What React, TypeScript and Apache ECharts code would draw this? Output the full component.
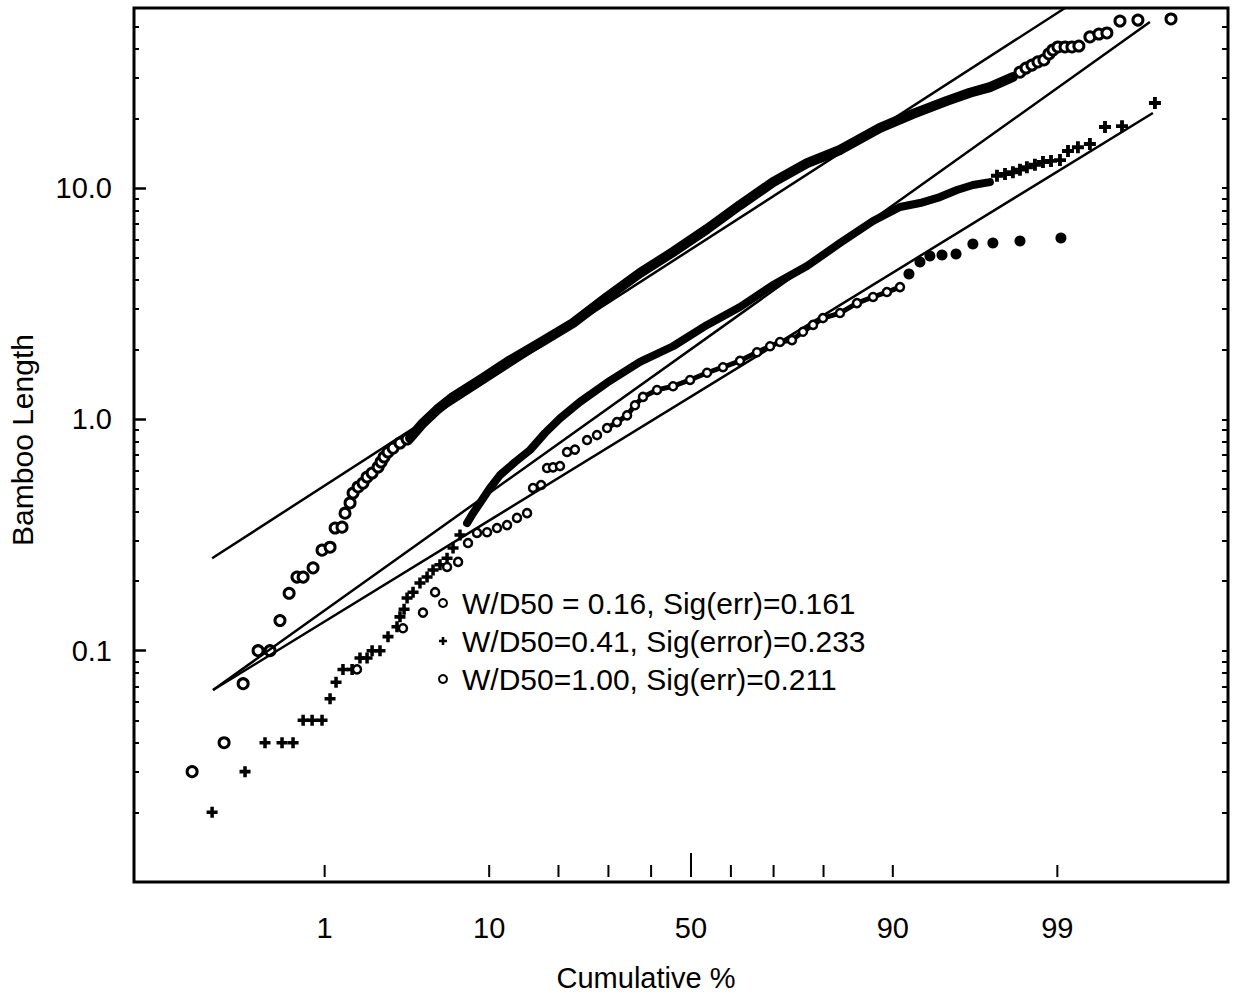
import React, { useEffect, useRef } from 'react';
import * as echarts from 'echarts';

const FONT = '"Liberation Sans", Arial, Helvetica, sans-serif';

// axis extents: y = Bamboo Length (log), x = normal score of the cumulative %
const yMin = 0.01;
const yMax = 60;
const zMin = -3.537;
const zMax = 3.41;

// tick labels / positions
const xTickPcts = [1, 10, 20, 30, 40, 50, 60, 70, 80, 90, 99];
const xLabelPcts = [1, 10, 50, 90, 99];
const yLabelValues = [0.1, 1, 10];
const yDecades = [0.01, 0.1, 1, 10];
const yMultipliers = [2, 3, 4, 5, 6, 7, 8, 9];

const NAME1 = 'W/D50 = 0.16, Sig(err)=0.161';
const NAME2 = 'W/D50=0.41, Sig(error)=0.233';
const NAME3 = 'W/D50=1.00, Sig(err)=0.211';

// data: [normal score of cumulative %, bamboo length]
// W/D50 = 0.16 (open circles)
const s1Low = [
  [-3.168, 0.030], [-2.965, 0.040], [-2.844, 0.072], [-2.749, 0.10], [-2.673, 0.10],
  [-2.610, 0.135], [-2.552, 0.177], [-2.502, 0.208], [-2.463, 0.208], [-2.400, 0.228],
  [-2.343, 0.272], [-2.292, 0.280], [-2.260, 0.339], [-2.216, 0.342], [-2.197, 0.393],
  [-2.165, 0.435], [-2.146, 0.480], [-2.114, 0.510], [-2.083, 0.530], [-2.057, 0.563],
  [-2.025, 0.586], [-1.987, 0.622], [-1.968, 0.654], [-1.949, 0.687], [-1.924, 0.722],
  [-1.892, 0.751], [-1.848, 0.790], [-1.803, 0.822],
];
const s1Band = [
  [-1.784, 0.830], [-1.702, 0.964], [-1.613, 1.10], [-1.511, 1.25], [-1.340, 1.48],
  [-1.149, 1.80], [-0.959, 2.14], [-0.749, 2.61], [-0.533, 3.38], [-0.324, 4.29],
  [-0.114, 5.29], [0.102, 6.65], [0.311, 8.44], [0.521, 10.6], [0.737, 12.8],
  [0.946, 14.6], [1.200, 18.2], [1.410, 20.9], [1.625, 23.8], [1.771, 25.8],
  [1.898, 27.3], [2.044, 30.2],
];
const s1High = [
  [2.089, 31.7], [2.127, 33.0], [2.165, 34.0], [2.203, 35.1], [2.241, 35.8],
  [2.273, 38.0], [2.298, 39.5], [2.330, 40.7], [2.375, 40.7], [2.419, 40.7],
  [2.463, 41.1], [2.533, 45.0], [2.590, 46.3], [2.641, 46.8], [2.724, 52.7],
  [2.838, 53.2], [3.048, 53.8],
];

// W/D50 = 0.41 (plus marks)
const s2Low = [
  [-3.041, 0.020], [-2.832, 0.030], [-2.705, 0.040], [-2.597, 0.040], [-2.527, 0.040],
  [-2.463, 0.050], [-2.406, 0.050], [-2.343, 0.050], [-2.292, 0.062], [-2.254, 0.073],
  [-2.210, 0.083], [-2.152, 0.083], [-2.102, 0.093], [-2.057, 0.093], [-2.025, 0.10],
  [-1.975, 0.10], [-1.924, 0.115], [-1.867, 0.127], [-1.848, 0.140], [-1.822, 0.151],
  [-1.803, 0.169], [-1.765, 0.179], [-1.721, 0.196], [-1.676, 0.208], [-1.638, 0.223],
  [-1.594, 0.235], [-1.549, 0.251], [-1.511, 0.278], [-1.467, 0.316],
];
const s2Band = [
  [-1.422, 0.356], [-1.384, 0.393], [-1.340, 0.435], [-1.276, 0.505], [-1.213, 0.574],
  [-1.117, 0.654], [-1.022, 0.737], [-0.927, 0.873], [-0.832, 1.01], [-0.705, 1.19],
  [-0.533, 1.44], [-0.324, 1.77], [-0.114, 2.07], [0.102, 2.56], [0.311, 3.06],
  [0.521, 3.81], [0.737, 4.60], [0.946, 5.78], [1.156, 7.20], [1.327, 8.28],
  [1.454, 8.61], [1.581, 9.14], [1.689, 9.80], [1.790, 10.3], [1.898, 10.6],
];
const s2High = [
  [1.943, 11.3], [1.994, 11.5], [2.044, 11.7], [2.089, 12.0], [2.133, 12.3],
  [2.184, 12.6], [2.235, 12.95], [2.286, 13.1], [2.343, 13.2], [2.394, 14.45],
  [2.457, 15.0], [2.533, 15.5], [2.629, 18.35], [2.737, 18.5], [2.946, 23.3],
];

// W/D50 = 1.00 (small circles)
const s3Low = [
  [-2.121, 0.083], [-1.829, 0.125], [-1.702, 0.146], [-1.625, 0.179], [-1.549, 0.230],
  [-1.479, 0.242], [-1.416, 0.292], [-1.359, 0.323], [-1.295, 0.325], [-1.232, 0.339],
  [-1.168, 0.349], [-1.105, 0.375], [-1.041, 0.393], [-1.003, 0.505], [-0.952, 0.52],
  [-0.914, 0.616], [-0.876, 0.62], [-0.832, 0.628], [-0.787, 0.722], [-0.737, 0.74],
  [-0.660, 0.814], [-0.597, 0.855],
];
const s3Chain = [
  [-0.533, 0.917], [-0.470, 0.973], [-0.406, 1.04], [-0.356, 1.15], [-0.305, 1.25],
  [-0.216, 1.34], [-0.114, 1.39], [-0.006, 1.48], [0.102, 1.59], [0.203, 1.68],
  [0.311, 1.79], [0.419, 1.95], [0.502, 2.07], [0.565, 2.16], [0.641, 2.20],
  [0.711, 2.39], [0.775, 2.56], [0.838, 2.74], [0.946, 2.88], [1.054, 3.18],
  [1.156, 3.38], [1.244, 3.55], [1.327, 3.73],
];
const s3High = [
  [1.384, 4.25], [1.454, 4.79], [1.517, 5.08], [1.594, 5.13], [1.683, 5.18],
  [1.790, 5.73], [1.917, 5.78], [2.089, 5.90], [2.349, 6.08],
];

// fitted lines
const fitA = [[-3.041, 0.251], [2.375, 60]];
const fitB = [[-3.035, 0.0676], [2.914, 52.2]];
const fitC = [[-3.035, 0.0676], [2.933, 21.1]];

function probit(p: number): number {
  const a = [-3.969683028665376e1, 2.209460984245205e2, -2.759285104469687e2, 1.38357751867269e2, -3.066479806614716e1, 2.506628277459239];
  const b = [-5.447609879822406e1, 1.615858368580409e2, -1.556989798598866e2, 6.680131188771972e1, -1.328068155288572e1];
  const c = [-7.784894002430293e-3, -3.223964580411365e-1, -2.400758277161838, -2.549732539343734, 4.374664141464968, 2.938163982698783];
  const d = [7.784695709041462e-3, 3.224671290700398e-1, 2.445134137142996, 3.754408661907416];
  const pl = 0.02425;
  if (p < pl) {
    const q = Math.sqrt(-2 * Math.log(p));
    return (((((c[0] * q + c[1]) * q + c[2]) * q + c[3]) * q + c[4]) * q + c[5]) / ((((d[0] * q + d[1]) * q + d[2]) * q + d[3]) * q + 1);
  }
  if (p <= 1 - pl) {
    const q = p - 0.5;
    const r = q * q;
    return ((((((a[0] * r + a[1]) * r + a[2]) * r + a[3]) * r + a[4]) * r + a[5]) * q) / (((((b[0] * r + b[1]) * r + b[2]) * r + b[3]) * r + b[4]) * r + 1);
  }
  const q = Math.sqrt(-2 * Math.log(1 - p));
  return -(((((c[0] * q + c[1]) * q + c[2]) * q + c[3]) * q + c[4]) * q + c[5]) / ((((d[0] * q + d[1]) * q + d[2]) * q + d[3]) * q + 1);
}

const minorY: number[] = [];
yDecades.forEach((dec) => yMultipliers.forEach((m) => {
  const v = +(dec * m).toPrecision(6);
  if (v < yMax) minorY.push(v);
}));
const allY = minorY.concat(yLabelValues);

const CROSS = 'path://M3.4,0H6.6V3.4H10V6.6H6.6V10H3.4V6.6H0V3.4H3.4Z';

export default function App() {
  const ref = useRef<HTMLDivElement>(null);
  useEffect(() => {
    if (!ref.current) return;
    const chart = echarts.init(ref.current, null, { renderer: 'svg' });
    const logAxisBase: any = {
      type: 'log', logBase: 10, min: yMin, max: yMax,
      axisLine: { show: false, onZero: false }, splitLine: { show: false }, minorTick: { show: false },
    };
    const lineBase: any = { type: 'line', symbol: 'none', showSymbol: false, silent: true, clip: true };
    const openCircle = { color: '#fff', borderColor: '#000', borderWidth: 3, opacity: 1 };
    chart.setOption({
      animation: false,
      backgroundColor: '#fff',
      grid: {
        left: 134, right: 5, top: 8, bottom: 115, containLabel: false, outerBoundsMode: 'none',
        show: true, borderColor: '#000', borderWidth: 3, backgroundColor: 'transparent',
      },
      xAxis: {
        type: 'value', min: zMin, max: zMax,
        axisLine: { show: false, onZero: false }, axisTick: { show: false }, splitLine: { show: false },
        axisLabel: {
          customValues: xLabelPcts.map((p) => probit(p / 100)),
          formatter: (v: number) => {
            const p = xLabelPcts.find((q) => Math.abs(probit(q / 100) - v) < 1e-6);
            return p === undefined ? '' : String(p);
          },
          margin: 31, fontSize: 29, fontFamily: FONT, color: '#000',
        },
      },
      yAxis: [
        {
          ...logAxisBase, position: 'left',
          axisTick: { show: true, inside: true, length: 5, customValues: minorY, lineStyle: { color: '#000', width: 2 } },
          axisLabel: { show: false },
        },
        {
          ...logAxisBase, position: 'left',
          axisTick: { show: true, inside: true, length: 12, customValues: yLabelValues, lineStyle: { color: '#000', width: 2.5 } },
          axisLabel: {
            customValues: yLabelValues,
            formatter: (v: number) => Number(v).toFixed(1),
            margin: 22, fontSize: 29, fontFamily: FONT, color: '#000',
          },
        },
        {
          ...logAxisBase, position: 'right',
          axisTick: { show: true, inside: true, length: 6, customValues: allY, lineStyle: { color: '#000', width: 2 } },
          axisLabel: { show: false },
        },
      ],
      legend: {
        data: [NAME1, NAME2, NAME3],
        orient: 'vertical', left: 433, top: 583, itemGap: 8,
        itemWidth: 28, itemHeight: 8, selectedMode: false,
        textStyle: { fontSize: 30, fontFamily: FONT, color: '#000' },
      },
      graphic: [
        {
          type: 'text', x: 22, y: 440, rotation: Math.PI / 2,
          style: { text: 'Bamboo Length', fontSize: 30, fontFamily: FONT, fill: '#000', align: 'center', verticalAlign: 'middle' },
        },
        {
          type: 'text', x: 646, y: 978,
          style: { text: 'Cumulative %', fontSize: 29, fontFamily: FONT, fill: '#000', align: 'center', verticalAlign: 'middle' },
        },
      ],
      series: [
        { ...lineBase, name: 'fit 0.16', data: fitA, lineStyle: { color: '#000', width: 2.5, opacity: 1 } },
        { ...lineBase, name: 'fit 0.41', data: fitB, lineStyle: { color: '#000', width: 2.5, opacity: 1 } },
        { ...lineBase, name: 'fit 1.00', data: fitC, lineStyle: { color: '#000', width: 2.5, opacity: 1 } },
        { ...lineBase, name: 'band 0.16', data: s1Band, lineStyle: { color: '#000', width: 10, cap: 'round', join: 'round', opacity: 1 } },
        { ...lineBase, name: 'band 0.41', data: s2Band, lineStyle: { color: '#000', width: 8, cap: 'round', join: 'round', opacity: 1 } },
        {
          type: 'line', name: 'chain 1.00', data: s3Chain, silent: true, clip: true,
          symbol: 'circle', symbolSize: 8, showSymbol: true,
          itemStyle: { color: '#fff', borderColor: '#000', borderWidth: 2.5, opacity: 1 },
          lineStyle: { color: '#000', width: 5, join: 'round', opacity: 1 },
        },
        { type: 'scatter', name: NAME1, data: s1Low, symbol: 'circle', symbolSize: 10, itemStyle: openCircle, silent: true },
        { type: 'scatter', name: 'upper 0.16', data: s1High, symbol: 'circle', symbolSize: 10, itemStyle: openCircle, silent: true },
        { type: 'scatter', name: NAME2, data: s2Low, symbol: CROSS, symbolSize: 11, symbolKeepAspect: true, itemStyle: { color: '#000', opacity: 1 }, silent: true },
        { type: 'scatter', name: 'upper 0.41', data: s2High, symbol: CROSS, symbolSize: 12, symbolKeepAspect: true, itemStyle: { color: '#000', opacity: 1 }, silent: true },
        { type: 'scatter', name: NAME3, data: s3Low, symbol: 'circle', symbolSize: 8, itemStyle: { color: '#fff', borderColor: '#000', borderWidth: 2.5, opacity: 1 }, silent: true },
        { type: 'scatter', name: 'upper 1.00', data: s3High, symbol: 'circle', symbolSize: 11, itemStyle: { color: '#000', opacity: 1 }, silent: true },
        {
          type: 'custom', name: 'x ticks', silent: true, clip: false, z: 5,
          data: xTickPcts.map((p) => [probit(p / 100), yMin, p]),
          encode: { x: 0, y: 1 },
          renderItem: (_params: any, api: any) => {
            const pt = api.coord([api.value(0), api.value(1)]);
            const long = api.value(2) === 50;
            return {
              type: 'line',
              shape: { x1: pt[0], y1: pt[1] - 5, x2: pt[0], y2: pt[1] - (long ? 29 : 17) },
              style: { stroke: '#000', lineWidth: 2 },
            };
          },
        },
      ],
    });
    return () => chart.dispose();
  }, []);
  return <div ref={ref} style={{ position: 'absolute', left: 0, top: 0, width: 1233, height: 997 }} />;
}
